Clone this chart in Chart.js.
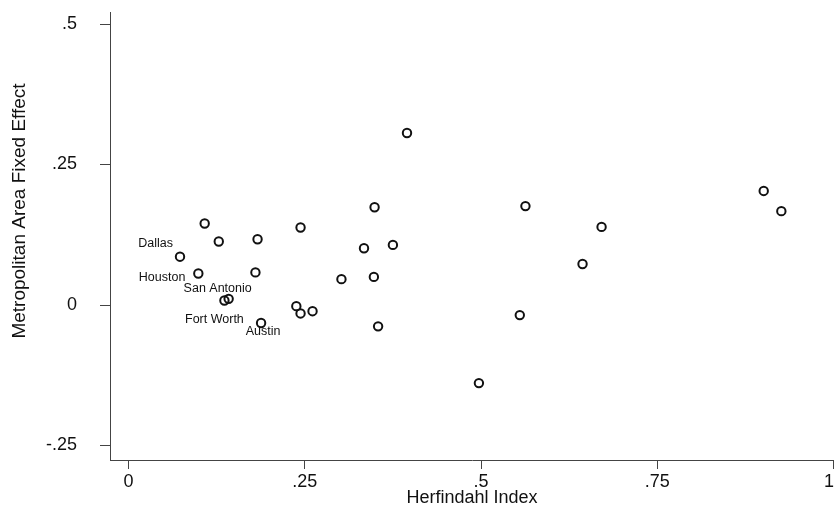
<!DOCTYPE html>
<html>
<head>
<meta charset="utf-8">
<script src="https://cdn.jsdelivr.net/npm/chart.js@4.4.1/dist/chart.umd.min.js"></script>
<style>
  html, body { margin: 0; padding: 0; background: #fff; }
  canvas { display: block; }
</style>
</head>
<body>
<canvas id="herfChart" width="834" height="507"></canvas>
<script>
// Herfindahl index vs metropolitan area fixed effect
const herfindahl = [0.073, 0.099, 0.108, 0.128, 0.136, 0.142, 0.183, 0.180, 0.188,
    0.238, 0.244, 0.244, 0.261, 0.302, 0.334, 0.348, 0.349, 0.354, 0.375,
    0.395, 0.497, 0.555, 0.563, 0.644, 0.671, 0.901, 0.926];
const fixedEffect = [0.086, 0.056, 0.145, 0.113, 0.008, 0.011, 0.117, 0.058, -0.032,
    -0.002, -0.015, 0.138, -0.011, 0.046, 0.101, 0.050, 0.174, -0.038, 0.107,
    0.306, -0.139, -0.018, 0.176, 0.073, 0.139, 0.203, 0.167];
const metroNames = ['Dallas', 'Houston', '', '', 'Fort Worth', 'San Antonio', '', '', 'Austin',
    '', '', '', '', '', '', '', '', '', '',
    '', '', '', '', '', '', '', ''];

const xTicks = [0, 0.25, 0.5, 0.75, 1];
const xTickLabels = ['0', '.25', '.5', '.75', '1'];
const yTicks = [-0.25, 0, 0.25, 0.5];
const yTickLabels = ['-.25', '0', '.25', '.5'];

const yTitle = 'Metropolitan Area Fixed Effect';
const xTitle = 'Herfindahl Index';

// where each city label sits relative to its marker (px)
const labelOffsets = {
    'Dallas': { dx: -7, dy: -13, align: 'right' },
    'Houston': { dx: -13, dy: 4, align: 'right' },
    'San Antonio': { dx: -11, dy: -10, align: 'center' },
    'Fort Worth': { dx: -10, dy: 19, align: 'center' },
    'Austin': { dx: 2, dy: 9, align: 'center' }
};

const fontFamily = "'Liberation Sans', Arial, Helvetica, sans-serif";
const ink = '#111';
const axisGrey = '#444';

const cityLabels = {
    id: 'cityLabels',
    afterDatasetsDraw(chart) {
        const ctx = chart.ctx;
        const meta = chart.getDatasetMeta(0);
        ctx.save();
        ctx.font = '12.5px ' + fontFamily;
        ctx.fillStyle = ink;
        ctx.textBaseline = 'middle';
        metroNames.forEach((name, i) => {
            if (!name) return;
            const pt = meta.data[i];
            const off = labelOffsets[name];
            ctx.textAlign = off.align;
            ctx.fillText(name, pt.x + off.dx, pt.y + off.dy);
        });
        ctx.restore();
    }
};

// y title sits a little above the axis middle, like the original
const yAxisTitle = {
    id: 'yAxisTitle',
    afterDraw(chart) {
        const ctx = chart.ctx;
        const area = chart.chartArea;
        ctx.save();
        ctx.translate(19.5, (area.top + area.bottom) / 2 - 25);
        ctx.rotate(-Math.PI / 2);
        ctx.font = '19px ' + fontFamily;
        ctx.fillStyle = ink;
        ctx.textAlign = 'center';
        ctx.textBaseline = 'middle';
        ctx.fillText(yTitle, 0, 0);
        ctx.restore();
    }
};

function noPad(scale) {
    scale.paddingLeft = 0;
    scale.paddingRight = 0;
    scale.paddingTop = 0;
    scale.paddingBottom = 0;
}

new Chart(document.getElementById('herfChart'), {
    type: 'scatter',
    data: {
        datasets: [{
            data: herfindahl.map((x, i) => ({ x: x, y: fixedEffect[i] })),
            pointStyle: 'circle',
            pointRadius: 4.2,
            pointBorderWidth: 2,
            pointBorderColor: ink,
            pointBackgroundColor: 'rgba(0,0,0,0)',
            pointHoverRadius: 4.2
        }]
    },
    options: {
        responsive: false,
        animation: false,
        events: [],
        layout: {
            autoPadding: false,
            padding: { top: 12, right: 0, bottom: 0, left: 0 }
        },
        plugins: {
            legend: { display: false },
            tooltip: { enabled: false }
        },
        scales: {
            x: {
                type: 'linear',
                min: -0.0263,
                max: 1.0007,
                afterBuildTicks: (scale) => { scale.ticks = xTicks.map(v => ({ value: v })); },
                afterFit: (scale) => { scale.height = 47; noPad(scale); },
                ticks: {
                    autoSkip: false,
                    maxRotation: 0,
                    padding: 2,
                    color: ink,
                    font: { size: 18, family: fontFamily },
                    // last label is pulled in a bit so it stays inside the canvas
                    callback: (v, i) => (i === xTickLabels.length - 1 ? xTickLabels[i] + '\u2002' : xTickLabels[i])
                },
                grid: {
                    drawOnChartArea: false,
                    drawTicks: true,
                    tickLength: 9,
                    color: axisGrey
                },
                border: { display: true, color: axisGrey, width: 1 },
                title: {
                    display: true,
                    text: xTitle,
                    color: ink,
                    font: { size: 18, family: fontFamily },
                    padding: { top: 0, bottom: -2 }
                }
            },
            y: {
                type: 'linear',
                min: -0.2758,
                max: 0.5214,
                afterBuildTicks: (scale) => { scale.ticks = yTicks.map(v => ({ value: v })); },
                afterFit: (scale) => { scale.width = 110; noPad(scale); },
                ticks: {
                    autoSkip: false,
                    padding: 23,
                    color: ink,
                    font: { size: 18, family: fontFamily },
                    callback: (v, i) => yTickLabels[i]
                },
                grid: {
                    drawOnChartArea: false,
                    drawTicks: true,
                    tickLength: 10,
                    color: axisGrey
                },
                border: { display: true, color: axisGrey, width: 1 },
                title: { display: false }
            }
        }
    },
    plugins: [cityLabels, yAxisTitle]
});
</script>
</body>
</html>
